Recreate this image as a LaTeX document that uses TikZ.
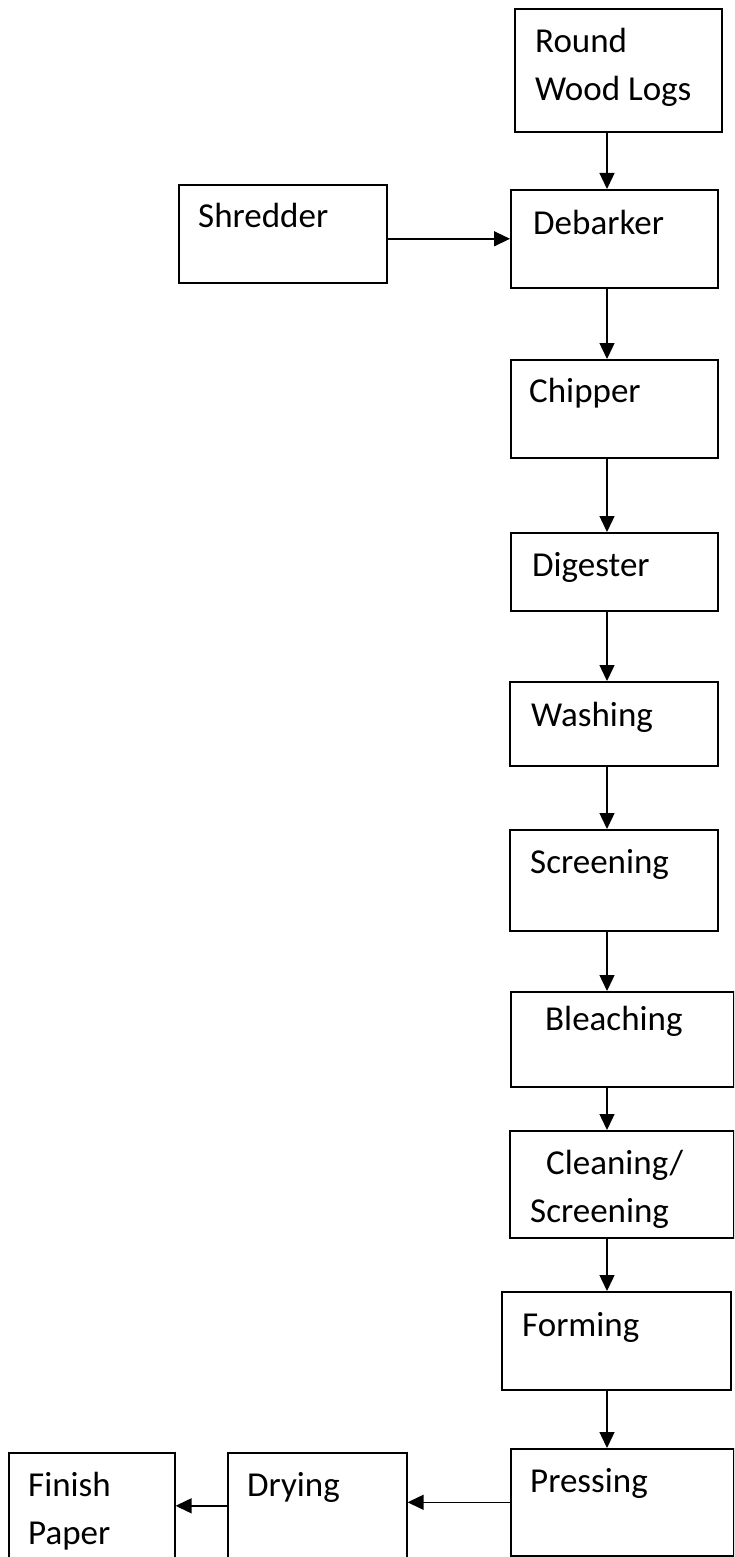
\documentclass[tikz,border=0pt]{standalone}
\usepackage{fontspec}
\setmainfont{Carlito}
\usetikzlibrary{arrows.meta}

\begin{document}
\begin{tikzpicture}[x=1pt,y=-1pt]
	\tikzstyle{every node}=[font=\fontsize{35}{48}\selectfont]
	\tikzstyle{stage}=[draw,line width=1.6pt,inner sep=0pt,anchor=north west]
	\tikzstyle{txt}=[inner sep=0pt,anchor=north west,align=left]
	\tikzstyle{flow}=[line width=1.4pt,-{Triangle[length=16pt,width=15pt]}]
	\useasboundingbox (0,0) rectangle (734,1557);
	\clip (0,0) rectangle (734,1557);

	% boxes
	\node[stage,minimum width=207pt,minimum height=123pt] (logs) at (514,8) {};
	\node[stage,minimum width=208pt,minimum height=98pt] (shred) at (178,184) {};
	\node[stage,minimum width=207pt,minimum height=98pt] (deb) at (510,189) {};
	\node[stage,minimum width=207pt,minimum height=98pt] (chip) at (510,359) {};
	\node[stage,minimum width=207pt,minimum height=78pt] (dig) at (510,532) {};
	\node[stage,minimum width=208pt,minimum height=84pt] (wash) at (509,681) {};
	\node[stage,minimum width=208pt,minimum height=101pt] (scr) at (509,829) {};
	\node[stage,minimum width=223pt,minimum height=95pt] (bleach) at (510,991) {};
	\node[stage,minimum width=224pt,minimum height=107pt] (clean) at (509,1130) {};
	\node[stage,minimum width=229pt,minimum height=98pt] (form) at (501,1291) {};
	\node[stage,minimum width=223pt,minimum height=107pt] (press) at (510,1448) {};
	\node[stage,minimum width=179pt,minimum height=118pt] (dry) at (227,1452) {};
	\node[stage,minimum width=166pt,minimum height=118pt] (fin) at (8,1452) {};

	% labels
	\node[txt] (logs-t) at ([shift={(21,20)}]logs.north west) {Round\\Wood Logs};
	\node[txt] (shred-t) at ([shift={(20,19)}]shred.north west) {Shredder};
	\node[txt] (deb-t) at ([shift={(23,21)}]deb.north west) {Debarker};
	\node[txt] (chip-t) at ([shift={(19,19)}]chip.north west) {Chipper};
	\node[txt] (dig-t) at ([shift={(22,20)}]dig.north west) {Digester};
	\node[txt] (wash-t) at ([shift={(22,21)}]wash.north west) {Washing};
	\node[txt] (scr-t) at ([shift={(21,20)}]scr.north west) {Screening};
	\node[txt] (bleach-t) at ([shift={(35,15)}]bleach.north west) {Bleaching};
	\node[txt] (clean-t) at ([shift={(21,20)}]clean.north west) {\hspace*{16pt}Cleaning/\\Screening};
	\node[txt] (form-t) at ([shift={(21,21)}]form.north west) {Forming};
	\node[txt] (press-t) at ([shift={(20,20)}]press.north west) {Pressing};
	\node[txt] (dry-t) at ([shift={(20,20)}]dry.north west) {Drying};
	\node[txt] (fin-t) at ([shift={(20,20)}]fin.north west) {Finish\\Paper};

	% arrows
	\coordinate (axis) at (607,0);
	\draw[flow] (logs.south -| axis) -- (deb.north -| axis);
	\draw[flow] ([yshift=-5pt]shred.east) -- (deb.west);
	\draw[flow] (deb.south -| axis) -- (chip.north -| axis);
	\draw[flow] (chip.south -| axis) -- (dig.north -| axis);
	\draw[flow] (dig.south -| axis) -- (wash.north -| axis);
	\draw[flow] (wash.south -| axis) -- (scr.north -| axis);
	\draw[flow] (scr.south -| axis) -- (bleach.north -| axis);
	\draw[flow] (bleach.south -| axis) -- (clean.north -| axis);
	\draw[flow] (clean.south -| axis) -- (form.north -| axis);
	\draw[flow] (form.south -| axis) -- (press.north -| axis);
	\draw[flow] (press.west) -- (press.west -| dry.east);
	\draw[flow] ([yshift=6pt]dry.west) -- ([yshift=6pt]fin.east);
\end{tikzpicture}
\end{document}
